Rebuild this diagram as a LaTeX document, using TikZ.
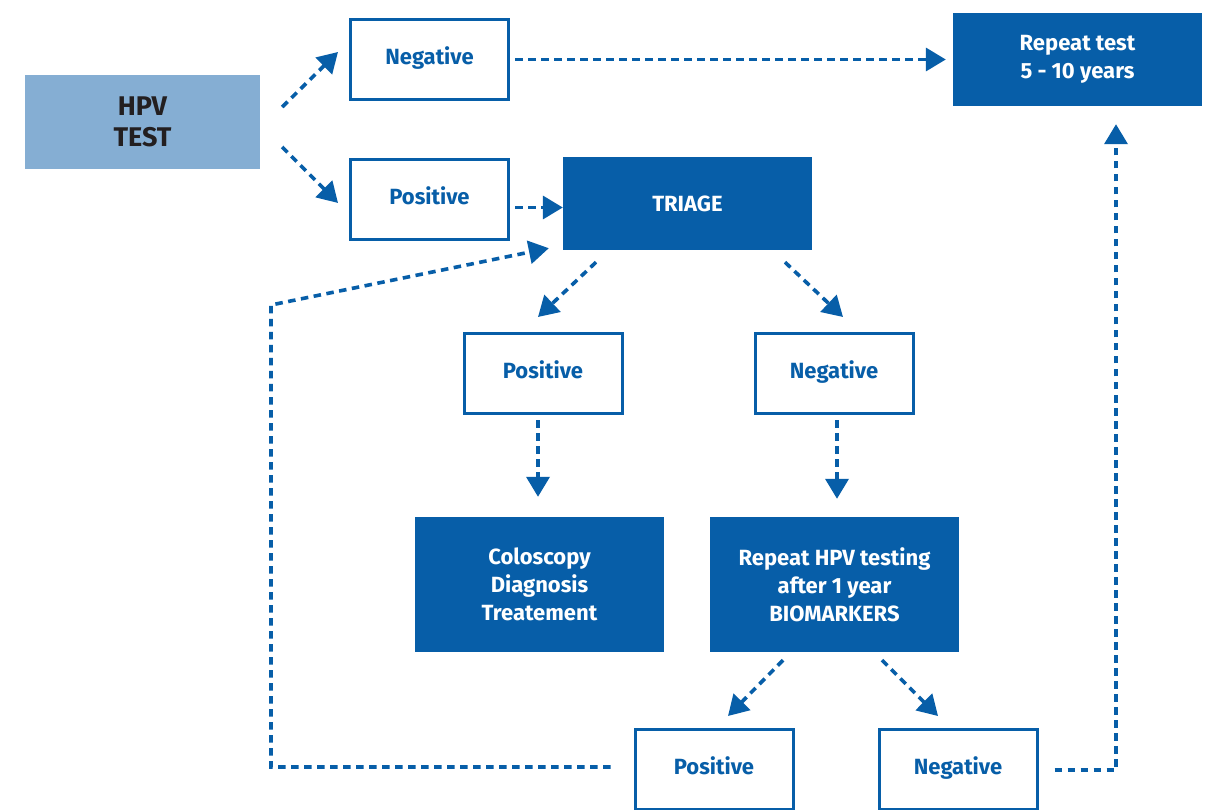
\documentclass[tikz,border=0pt]{standalone}
\usepackage{fontspec}
\setmainfont{Fira Sans}
\newfontfamily\boxfont{Fira Sans Bold}
\usetikzlibrary{arrows.meta,calc}

\definecolor{flowblue}{RGB}{7,94,168}
\definecolor{testblue}{RGB}{133,174,211}
\definecolor{inkdark}{RGB}{35,31,32}

\tikzset{
  labelfont/.style={font=\boxfont\fontsize{22}{28}\selectfont},
  outlinebox/.style={draw=flowblue, line width=3pt, fill=white,
    minimum width=158pt, minimum height=80pt, inner sep=0pt,
    text height=16pt, text depth=6pt,
    text=flowblue, labelfont},
  solidbox/.style={fill=flowblue, draw=none, text=white,
    inner sep=0pt, align=center, labelfont},
  flow/.style={draw=flowblue, line width=3.6pt, dash pattern=on 7.5pt off 5.5pt,
    -{Triangle[length=20pt,width=23pt]}},
}

\begin{document}
\begin{tikzpicture}[x=1pt, y=-1pt]
  \useasboundingbox (0,0) rectangle (1208,810);
  \fill[white] (0,0) rectangle (1208,810);
  \clip (0,0) rectangle (1208,810);

  % boxes
  \node[fill=testblue, text=inkdark, inner sep=0pt, align=center,
        minimum width=235pt, minimum height=94pt,
        font=\boxfont\fontsize{27}{31}\selectfont] (hpv) at (142.5,122) {HPV\\TEST};
  \node[outlinebox] (neg1) at (429.5,59.5) {Negative};
  \node[outlinebox] (pos1) at (429.5,199.5) {Positive};
  \node[solidbox, minimum width=249pt, minimum height=93pt] (rep) at (1077.5,59.5) {Repeat test\\5 - 10 years};
  \node[solidbox, minimum width=249pt, minimum height=93pt] (triage) at (687.5,203.5) {TRIAGE};
  \node[outlinebox] (pos2) at (543,373.5) {Positive};
  \node[outlinebox] (neg2) at (834,373.5) {Negative};
  \node[solidbox, minimum width=249pt, minimum height=135pt] (colo) at (539.5,584.5) {Coloscopy\\Diagnosis\\Treatement};
  \node[solidbox, minimum width=249pt, minimum height=135pt] (rhpv) at (834.5,584.5) {Repeat HPV testing\\after 1 year\\BIOMARKERS};
  \node[outlinebox] (pos3) at (714,769.5) {Positive};
  \node[outlinebox] (neg3) at (958,769.5) {Negative};

  % connectors
  \draw[flow] ($(hpv.east)+(22,-15)$) -- ($(neg1.west)+(-11,-7.5)$);
  \draw[flow] ($(hpv.east)+(22,25)$) -- ($(pos1.west)+(-11,3.5)$);
  \draw[flow] ($(neg1.east)+(5,0)$) -- ($(rep.west)+(-7,0)$);
  \draw[flow] ($(pos1.east)+(5,8)$) -- ($(triage.west)+(0,4)$);
  \draw[flow] ($(triage.south)+(-91.5,12)$) -- ($(pos2.north)+(-5,-15)$);
  \draw[flow] ($(triage.south)+(97.5,12)$) -- ($(neg2.north)+(9,-15)$);
  \draw[flow] ($(pos2.south)+(-5,5)$) -- ($(colo.north)+(-1.5,-20)$);
  \draw[flow] ($(neg2.south)+(3,5)$) -- ($(rhpv.north)+(2.5,-18)$);
  \draw[flow] ($(rhpv.south)+(-51.5,8)$) -- ($(pos3.north)+(14,-12)$);
  \draw[flow] ($(rhpv.south)+(47.5,8)$) -- ($(neg3.north)+(-20,-12)$);

  % feedback loops
  \coordinate (loopL) at (271,305);
  \coordinate (backL) at ($(pos3.west)+(-23,-2.5)$);
  \draw[flow] (backL) -- (backL -| loopL) -- (loopL)
        -- ($(triage.south west)+(-14,-2)$);
  \coordinate (backR) at ($(neg3.east)+(16,0.5)$);
  \draw[flow] (backR) -| ($(rep.south)+(38.5,18)$);
\end{tikzpicture}
\end{document}
